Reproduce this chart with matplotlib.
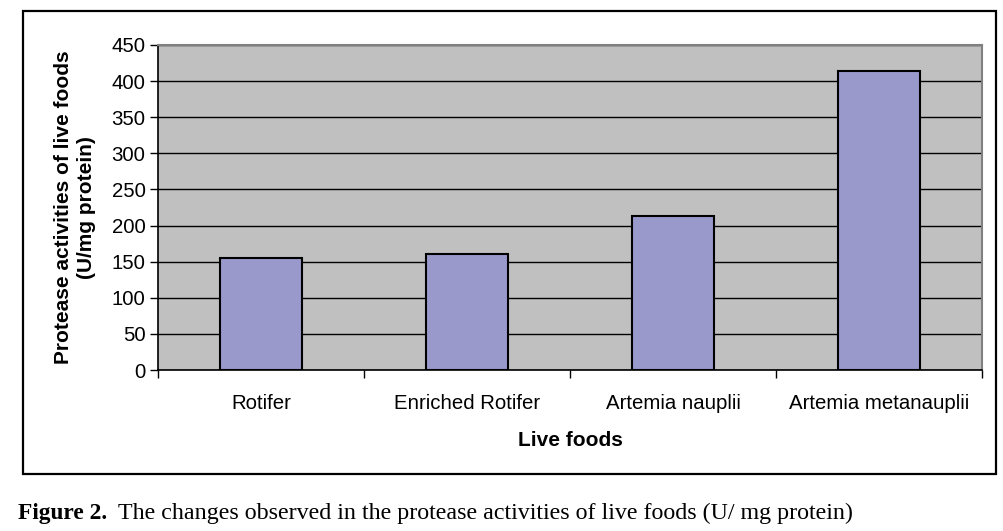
import matplotlib
matplotlib.use("Agg")
import matplotlib.pyplot as plt
from matplotlib.patches import Rectangle

categories = ["Rotifer", "Enriched Rotifer", "Artemia nauplii", "Artemia metanauplii"]
values = [155, 160, 213, 414]
yticks = [0, 50, 100, 150, 200, 250, 300, 350, 400, 450]

W, H = 1004, 531
fig = plt.figure(figsize=(W / 100, H / 100), dpi=100)
fig.patch.set_facecolor("white")

# outer frame
fig.add_artist(Rectangle((23 / W, 1 - 474 / H), (996 - 23) / W, (474 - 11) / H,
                         transform=fig.transFigure, fill=False, edgecolor="black",
                         linewidth=1.6))

ax = fig.add_axes([158 / W, 1 - 370 / H, (982 - 158) / W, (370 - 45) / H])
ax.set_facecolor("#C0C0C0")
x = list(range(len(categories)))
ax.bar(x, values, width=0.40, color="#9999CC", edgecolor="black", linewidth=1.5, zorder=3)
ax.set_xlim(-0.5, len(categories) - 0.5)
ax.set_ylim(0, 450)
ax.set_yticks(yticks)
ax.set_yticklabels([str(v) for v in yticks], fontsize=14.7, family="Liberation Sans")
ax.yaxis.grid(True, color="black", linewidth=1.0, zorder=1)
ax.set_axisbelow(True)
ax.tick_params(axis="y", direction="out", length=6, width=1, pad=3)

ax.set_xticks(x)
ax.set_xticklabels(categories, fontsize=14.7, family="Liberation Sans")
ax.set_xticks([i - 0.5 for i in range(len(categories) + 1)], minor=True)
ax.tick_params(axis="x", which="major", length=0, pad=17)
ax.tick_params(axis="x", which="minor", direction="out", length=6, width=1)

for s in ["top", "right"]:
    ax.spines[s].set_color("#808080")
    ax.spines[s].set_linewidth(1.5)
for s in ["left", "bottom"]:
    ax.spines[s].set_color("black")
    ax.spines[s].set_linewidth(1.2)

ax.set_xlabel("Live foods", fontsize=15, fontweight="bold", family="Liberation Sans", labelpad=13)
ax.set_ylabel("Protease activities of live foods\n(U/mg protein)", fontsize=15,
              fontweight="bold", family="Liberation Sans", labelpad=11, linespacing=1.3)

fig.text(18 / W, 1 - 513 / H, "Figure 2.", fontsize=16.8, fontweight="bold",
         family="Liberation Serif", va="center", ha="left")
fig.text(118 / W, 1 - 513 / H, "The changes observed in the protease activities of live foods (U/ mg protein)",
         fontsize=17.3, family="Liberation Serif", va="center", ha="left")

fig.savefig("out.png", dpi=100)
